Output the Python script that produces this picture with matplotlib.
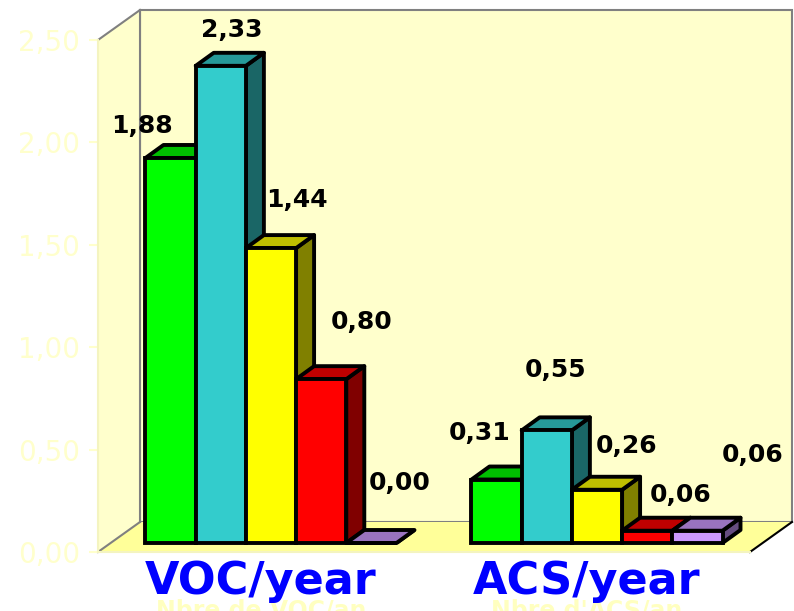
import matplotlib.pyplot as plt
from matplotlib.patches import Polygon

categories = ["VOC/year", "ACS/year"]
axis_titles = ["Nbre de VOC/an", "Nbre d'ACS/an"]
voc_values = [1.88, 2.33, 1.44, 0.80, 0.00]
acs_values = [0.31, 0.55, 0.26, 0.06, 0.06]
y_ticks = [0.0, 0.5, 1.0, 1.5, 2.0, 2.5]
y_tick_labels = ["0,00", "0,50", "1,00", "1,50", "2,00", "2,50"]

front_colors = ["#00FF00", "#33CCCC", "#FFFF00", "#FF0000", "#CC99FF"]
top_colors = ["#00BF00", "#269999", "#BFBF00", "#BF0000", "#9973BF"]
side_colors = ["#008000", "#1A6666", "#808000", "#800000", "#664D80"]

# value label placement relative to the bar top, in pixels
voc_label_offsets = [(-29, 32), (11, 36), (26, 48), (40, 57), (28, 60)]
acs_label_offsets = [(-17, 47), (9, 60), (30, 44), (33, 36), (55, 76)]

W, H = 794, 611
fig = plt.figure(figsize=(W / 100, H / 100), dpi=100)
ax = fig.add_axes([98 / W, 59 / H, 652 / W, 512 / H])
ax.set_xlim(0, 2)
ax.set_ylim(0, 2.5)

px_x = 652 / 2
px_y = 512 / 2.5


def depth(dx_px, dy_px):
    return dx_px / px_x, dy_px / px_y


wall_dx, wall_dy = depth(42, 30)
front_dx, front_dy = depth(12.6, 9)
bar_dx, bar_dy = depth(18, 13)
bar_w = 0.154
group_pad = 0.107
top = 2.5
gray = "#808080"

# back wall, side wall and floor
ax.add_patch(Polygon([(wall_dx, wall_dy), (2 + wall_dx, wall_dy),
                      (2 + wall_dx, top + wall_dy), (wall_dx, top + wall_dy)],
                     closed=True, facecolor="#FFFFCC", edgecolor=gray,
                     lw=1.5, clip_on=False, zorder=0))
ax.add_patch(Polygon([(0, 0), (wall_dx, wall_dy), (wall_dx, top + wall_dy), (0, top)],
                     closed=True, facecolor="#FFFFCC", edgecolor="none",
                     clip_on=False, zorder=0))
ax.add_patch(Polygon([(0, 0), (2, 0), (2 + wall_dx, wall_dy), (wall_dx, wall_dy)],
                     closed=True, facecolor="#FFFF99", edgecolor="none",
                     clip_on=False, zorder=0))
ax.plot([0, wall_dx], [top, top + wall_dy], color=gray, lw=1.5, clip_on=False, zorder=1)
ax.plot([wall_dx, wall_dx], [wall_dy, top + wall_dy], color=gray, lw=1.5, clip_on=False, zorder=1)
ax.plot([0, wall_dx], [0, wall_dy], color=gray, lw=1.5, clip_on=False, zorder=1)
ax.plot([2, 2 + wall_dx], [0, wall_dy], color="black", lw=1.5, clip_on=False, zorder=1)
ax.plot([0, 2], [0, 0], color="#F4F4C0", lw=1.5, clip_on=False, zorder=1)

edge = dict(edgecolor="black", lw=2.8, joinstyle="round", clip_on=False)

for gi, (vals, offsets) in enumerate([(voc_values, voc_label_offsets),
                                      (acs_values, acs_label_offsets)]):
    for j, v in enumerate(vals):
        x0 = gi + group_pad + j * bar_w + front_dx
        y0 = front_dy
        y1 = y0 + v
        z = 2 + gi * 10 + j
        # right side face, then top, then the front face
        ax.add_patch(Polygon([(x0 + bar_w, y0), (x0 + bar_w + bar_dx, y0 + bar_dy),
                              (x0 + bar_w + bar_dx, y1 + bar_dy), (x0 + bar_w, y1)],
                             closed=True, facecolor=side_colors[j], zorder=z, **edge))
        ax.add_patch(Polygon([(x0, y1), (x0 + bar_w, y1),
                              (x0 + bar_w + bar_dx, y1 + bar_dy), (x0 + bar_dx, y1 + bar_dy)],
                             closed=True, facecolor=top_colors[j], zorder=z, **edge))
        ax.bar(x0, v, width=bar_w, bottom=y0, align="edge", color=front_colors[j],
               edgecolor="black", linewidth=2.8, zorder=z)
        ax.annotate(f"{v:.2f}".replace(".", ","), xy=(x0 + bar_w / 2, y1),
                    xytext=offsets[j], textcoords="offset pixels",
                    ha="center", va="center", fontsize=18, fontweight="bold",
                    color="black", zorder=40, annotation_clip=False)

# category labels with the faded axis titles underneath
for i, (cat, faded) in enumerate(zip(categories, axis_titles)):
    ax.text(i + 0.5, -0.225, faded, ha="center", va="top", fontsize=17,
            fontweight="bold", color="#FFFFC0", zorder=30, clip_on=False)
    ax.text(i + 0.5, -0.146, cat, ha="center", va="center", fontsize=32,
            fontweight="bold", color="#0000FF", zorder=31, clip_on=False)

ax.set_yticks(y_ticks)
ax.set_yticklabels(y_tick_labels)
ax.set_xticks([])
ax.tick_params(axis="y", colors="#FFFFCC", length=6.5, width=1.5, labelsize=20, pad=6.5)
for side in ["top", "right", "bottom"]:
    ax.spines[side].set_visible(False)
ax.spines["left"].set_color("#F4F4C0")
ax.spines["left"].set_linewidth(1.5)
ax.patch.set_visible(False)

fig.savefig("out.png", dpi=100)
